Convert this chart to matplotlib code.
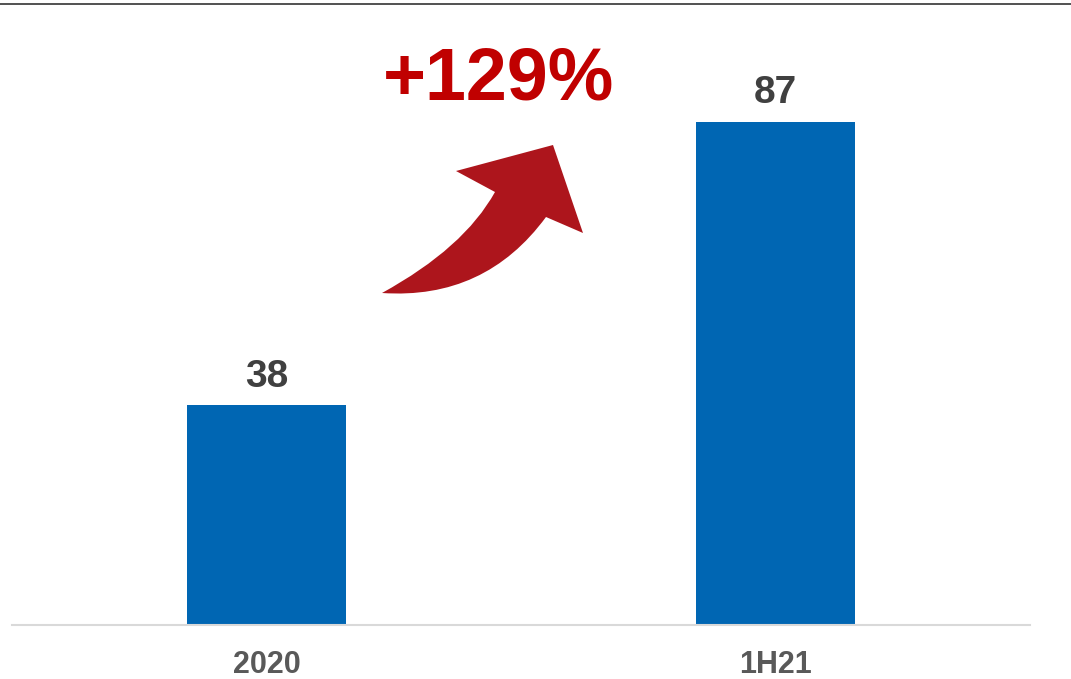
import matplotlib
matplotlib.use("Agg")
import matplotlib.pyplot as plt
from matplotlib.lines import Line2D
from matplotlib.patches import PathPatch
from matplotlib.path import Path

periods = ["2020", "1H21"]
values = [38, 87]
growth_label = "+129%"

BAR_BLUE = "#0066B3"
LABEL_GREY = "#404040"
TICK_GREY = "#595959"
GROWTH_RED = "#C00000"
ARROW_RED = "#AD151C"

W, H = 1071, 679

plt.rcParams["font.family"] = ["Liberation Sans", "DejaVu Sans"]

fig = plt.figure(figsize=(W / 100, H / 100), dpi=100)


def fx(px):
    return px / W


def fy(py):
    return 1 - py / H


ax = fig.add_axes([fx(12), fy(625), fx(1030) - fx(12), fy(0) - fy(625)])
ax.bar(range(len(values)), values, width=0.314, color=BAR_BLUE, zorder=2)
ax.set_xlim(-0.5, 1.5)
ax.set_ylim(0, 108)

for i, v in enumerate(values):
    ax.annotate(str(v), (i, v), xytext=(0, 13), textcoords="offset points",
                ha="center", va="baseline", fontsize=28, fontweight="bold",
                color=LABEL_GREY)

ax.set_xticks(range(len(periods)))
ax.set_xticklabels(periods, fontsize=22, fontweight="bold", color=TICK_GREY)
ax.tick_params(axis="x", length=0, pad=18)
ax.set_yticks([])
for side in ("left", "right", "top"):
    ax.spines[side].set_visible(False)
ax.spines["bottom"].set_color("#D9D9D9")
ax.spines["bottom"].set_linewidth(1.5)

# thin rule along the top edge
fig.add_artist(Line2D([0, 1], [fy(4), fy(4)], transform=fig.transFigure,
                      color="#333333", linewidth=1.2))

# curved growth arrow between the bars
pts = [(382, 293), (464, 248), (495, 192), (456, 171), (553, 145),
       (583, 233), (546, 217), (485, 300), (382, 293), (382, 293)]
codes = [Path.MOVETO, Path.CURVE3, Path.CURVE3, Path.LINETO, Path.LINETO,
         Path.LINETO, Path.LINETO, Path.CURVE3, Path.CURVE3, Path.CLOSEPOLY]
arrow = Path([(fx(x), fy(y)) for x, y in pts], codes)
fig.add_artist(PathPatch(arrow, transform=fig.transFigure,
                         facecolor=ARROW_RED, edgecolor="none"))

fig.text(fx(383), fy(100), growth_label, ha="left", va="baseline",
         fontsize=53, fontweight="bold", color=GROWTH_RED)

fig.savefig("out.png", dpi=100)
